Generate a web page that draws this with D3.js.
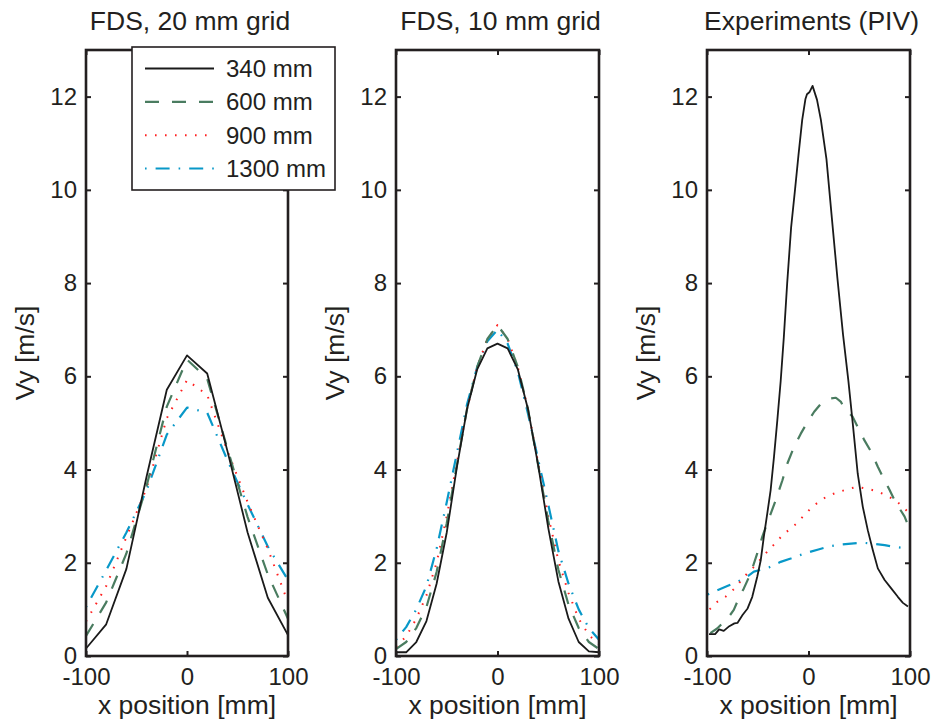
<!DOCTYPE html>
<html>
<head>
<meta charset="utf-8">
<script src="https://cdn.jsdelivr.net/npm/d3@7"></script>
<style>
  html, body { margin: 0; padding: 0; background: #fff; }
  svg { display: block; font-family: "Liberation Sans", Arial, Helvetica, sans-serif; }
</style>
</head>
<body>
<svg id="chart" width="935" height="724"></svg>
<script>
// ---------------- DATA ----------------
const seriesNames = ["340 mm", "600 mm", "900 mm", "1300 mm"];
const panelTitles = ["FDS, 20 mm grid", "FDS, 10 mm grid", "Experiments (PIV)"];
const xTicks = [-100, 0, 100];
const yTicks = [0, 2, 4, 6, 8, 10, 12];
const xLabel = "x position [mm]";
const yLabel = "Vy [m/s]";

// FDS 20 mm grid
const fds20X = [-100, -80, -60, -40, -20, 0, 20, 40, 60, 80, 100];
const fds20_340  = [0.16, 0.68, 1.87, 3.85, 5.71, 6.45, 6.06, 4.40, 2.65, 1.25, 0.45];
const fds20_600  = [0.43, 1.15, 2.20, 3.65, 5.35, 6.36, 5.95, 4.45, 2.98, 1.75, 0.80];
const fds20_900  = [0.74, 1.50, 2.55, 3.60, 5.10, 5.92, 5.60, 4.40, 3.30, 2.30, 1.15];
const fds20_1300 = [1.05, 1.84, 2.65, 3.55, 4.75, 5.33, 5.22, 4.20, 3.25, 2.35, 1.63];

// FDS 10 mm grid
const fds10X = [-100, -90, -80, -70, -60, -50, -40, -30, -20, -10, 0, 10, 20, 30, 40, 50, 60, 70, 80, 90, 100];
const fds10_340  = [0.08, 0.08, 0.30, 0.75, 1.55, 2.65, 4.05, 5.30, 6.15, 6.60, 6.70, 6.60, 6.15, 5.30, 4.10, 2.75, 1.60, 0.80, 0.30, 0.10, 0.08];
const fds10_600  = [0.15, 0.30, 0.60, 1.05, 1.80, 2.85, 4.10, 5.30, 6.20, 6.80, 7.10, 6.80, 6.20, 5.30, 4.10, 2.90, 1.85, 1.10, 0.60, 0.30, 0.15];
const fds10_900  = [0.20, 0.42, 0.80, 1.30, 2.00, 3.00, 4.15, 5.30, 6.20, 6.80, 7.10, 6.80, 6.20, 5.30, 4.15, 3.00, 2.05, 1.35, 0.80, 0.45, 0.25];
const fds10_1300 = [0.35, 0.62, 1.00, 1.50, 2.30, 3.30, 4.35, 5.40, 6.20, 6.75, 7.00, 6.70, 6.10, 5.20, 4.22, 3.25, 2.25, 1.55, 1.00, 0.60, 0.35];

// Experiments (PIV)
const expX_340 = [-98, -92, -88, -83.5, -78, -73, -70, -65, -60, -55.4, -50.5, -47, -44, -40.6, -37.3, -34, -30.7, -27.4, -24.3, -21, -17.1, -13.3, -9.9, -6.2, -3, -1.5, 1.1, 4.0, 8.4, 12.2, 17.7, 23, 28.5, 34, 39.3, 43.6, 48.5, 53.5, 58.4, 63.4, 68.3, 75, 81.5, 88, 93, 98];
const exp_340  = [0.47, 0.47, 0.57, 0.54, 0.64, 0.70, 0.71, 0.88, 1.02, 1.27, 1.70, 2.06, 2.56, 3.06, 3.56, 4.27, 5.06, 5.90, 6.84, 8.00, 9.20, 10.00, 10.74, 11.50, 11.95, 12.05, 12.10, 12.23, 11.93, 11.50, 10.66, 9.40, 8.10, 6.90, 5.90, 4.99, 3.91, 3.20, 2.70, 2.27, 1.88, 1.63, 1.45, 1.27, 1.14, 1.06];
const expX_600 = [-96.7, -90, -85, -78.5, -73.6, -68.6, -63.7, -57, -50.5, -45.5, -39, -32.3, -25.7, -20.8, -14.2, -7.6, -1, 5.6, 12.2, 20.5, 27, 32, 35.3, 43.6, 48.5, 55, 61.7, 68.3, 73.3, 79.9, 84.8, 89.8, 94.7, 98];
const exp_600  = [0.49, 0.59, 0.70, 0.84, 0.99, 1.24, 1.45, 1.77, 2.20, 2.56, 2.95, 3.34, 3.77, 4.13, 4.49, 4.77, 5.02, 5.24, 5.41, 5.52, 5.54, 5.45, 5.31, 5.13, 4.91, 4.63, 4.38, 4.06, 3.84, 3.56, 3.34, 3.16, 2.99, 2.81];
const expX_900 = [-97.4, -90, -81.8, -73.6, -60.4, -53.8, -40.6, -32.3, -25.7, -19, -10.9, -4.3, 3, 10.6, 19.5, 28.7, 38.6, 47.9, 57.4, 66.7, 76.6, 85.5, 93, 98];
const exp_900  = [1.00, 1.16, 1.27, 1.43, 1.77, 1.91, 2.24, 2.43, 2.59, 2.71, 2.86, 3.02, 3.18, 3.32, 3.44, 3.51, 3.58, 3.63, 3.59, 3.54, 3.45, 3.34, 3.20, 3.09];
const expX_1300 = [-99.3, -90, -80, -70, -60.4, -53.8, -48.8, -39, -27.4, -17.5, -7.6, 2.3, 10.6, 22, 32, 42, 53.5, 63.4, 75, 85, 96.4, 100];
const exp_1300  = [1.32, 1.41, 1.50, 1.59, 1.70, 1.81, 1.84, 1.90, 2.02, 2.09, 2.17, 2.24, 2.29, 2.36, 2.39, 2.41, 2.43, 2.41, 2.38, 2.34, 2.31, 2.30];

// ---------------- STYLES ----------------
const styles = [
  { color: "#1a1a1a", width: 1.8, dash: null },
  { color: "#4a7c60", width: 2.2, dash: "14,13" },
  { color: "#ff2020", width: 2.0, dash: "1.6,8.4" },
  { color: "#0898c8", width: 2.2, dash: "1.6,9,14,9" }
];
const textColor = "#231f20";

const panels = [
  { left: 86,  right: 288, title: panelTitles[0], data: [[fds20X, fds20_340], [fds20X, fds20_600], [fds20X, fds20_900], [fds20X, fds20_1300]] },
  { left: 396, right: 599, title: panelTitles[1], data: [[fds10X, fds10_340], [fds10X, fds10_600], [fds10X, fds10_900], [fds10X, fds10_1300]] },
  { left: 707, right: 910, title: panelTitles[2], data: [[expX_340, exp_340], [expX_600, exp_600], [expX_900, exp_900], [expX_1300, exp_1300]] }
];
const plotTop = 50, plotBottom = 656;
const plainFmt = d => String(d);

const svg = d3.select("#chart");
const defs = svg.append("defs");

panels.forEach((p, pi) => {
  const x = d3.scaleLinear().domain([-100, 100]).range([p.left, p.right]);
  const y = d3.scaleLinear().domain([0, 13]).range([plotBottom, plotTop]);
  const g = svg.append("g");

  defs.append("clipPath").attr("id", "clip" + pi)
    .append("rect").attr("x", p.left).attr("y", plotTop).attr("width", p.right - p.left).attr("height", plotBottom - plotTop);

  const lineGen = d3.line().x(d => x(d[0])).y(d => y(d[1]));
  const lg = g.append("g").attr("clip-path", `url(#clip${pi})`);
  [3, 2, 1, 0].forEach(si => {
    const [xs, vs] = p.data[si];
    const pts = xs.map((xv, i) => [xv, vs[i]]);
    const st = styles[si];
    lg.append("path").datum(pts)
      .attr("d", lineGen)
      .attr("fill", "none")
      .attr("stroke", st.color)
      .attr("stroke-width", st.width)
      .attr("stroke-dasharray", st.dash)
      .attr("stroke-linejoin", "round");
  });

  const axL = g.append("g").attr("transform", `translate(${p.left},0)`)
    .call(d3.axisLeft(y).tickValues(yTicks).tickFormat(plainFmt).tickSizeInner(-5).tickSizeOuter(0).tickPadding(9));
  const axR = g.append("g").attr("transform", `translate(${p.right},0)`)
    .call(d3.axisRight(y).tickValues(yTicks).tickSizeInner(-5).tickSizeOuter(0).tickFormat(""));
  const axB = g.append("g").attr("transform", `translate(0,${plotBottom})`)
    .call(d3.axisBottom(x).tickValues(xTicks).tickFormat(plainFmt).tickSizeInner(-5).tickSizeOuter(0).tickPadding(12));
  const axT = g.append("g").attr("transform", `translate(0,${plotTop})`)
    .call(d3.axisTop(x).tickValues(xTicks).tickSizeInner(-5).tickSizeOuter(0).tickFormat(""));
  [axL, axR, axB, axT].forEach(a => {
    a.select(".domain").remove();
    a.selectAll(".tick line").attr("stroke", textColor).attr("stroke-width", 2);
    a.selectAll(".tick text").attr("fill", textColor).style("font-size", "24px")
      .style("font-family", '"Liberation Sans", Arial, sans-serif');
  });
  axB.selectAll(".tick text").attr("dy", "0.72em");

  g.append("rect")
    .attr("x", p.left).attr("y", plotTop)
    .attr("width", p.right - p.left).attr("height", plotBottom - plotTop)
    .attr("fill", "none").attr("stroke", textColor).attr("stroke-width", 2.6);

  g.append("text")
    .attr("x", (p.left + p.right) / 2 + 3).attr("y", 30)
    .attr("text-anchor", "middle").attr("fill", textColor)
    .style("font-size", "26.5px").text(p.title);

  g.append("text")
    .attr("x", (p.left + p.right) / 2).attr("y", 714)
    .attr("text-anchor", "middle").attr("fill", textColor)
    .style("font-size", "26.5px").text(xLabel);

  g.append("text")
    .attr("transform", `translate(${p.left - 52},${(plotTop + plotBottom) / 2}) rotate(-90)`)
    .attr("text-anchor", "middle").attr("fill", textColor)
    .style("font-size", "26.5px").text(yLabel);
});

// legend (in first panel)
const leg = svg.append("g");
leg.append("rect")
  .attr("x", 132).attr("y", 47).attr("width", 203).attr("height", 143)
  .attr("fill", "#fff").attr("stroke", textColor).attr("stroke-width", 1.6);
const legY = d3.scalePoint().domain(seriesNames).range([68.5, 168.5]);
seriesNames.forEach((name, i) => {
  const yy = legY(name);
  const st = styles[i];
  leg.append("line")
    .attr("x1", 145).attr("x2", 214).attr("y1", yy).attr("y2", yy)
    .attr("stroke", st.color).attr("stroke-width", st.width)
    .attr("stroke-dasharray", st.dash);
  leg.append("text")
    .attr("x", 226).attr("y", yy + 8.5)
    .attr("fill", textColor).style("font-size", "24px").text(name);
});
</script>
</body>
</html>
